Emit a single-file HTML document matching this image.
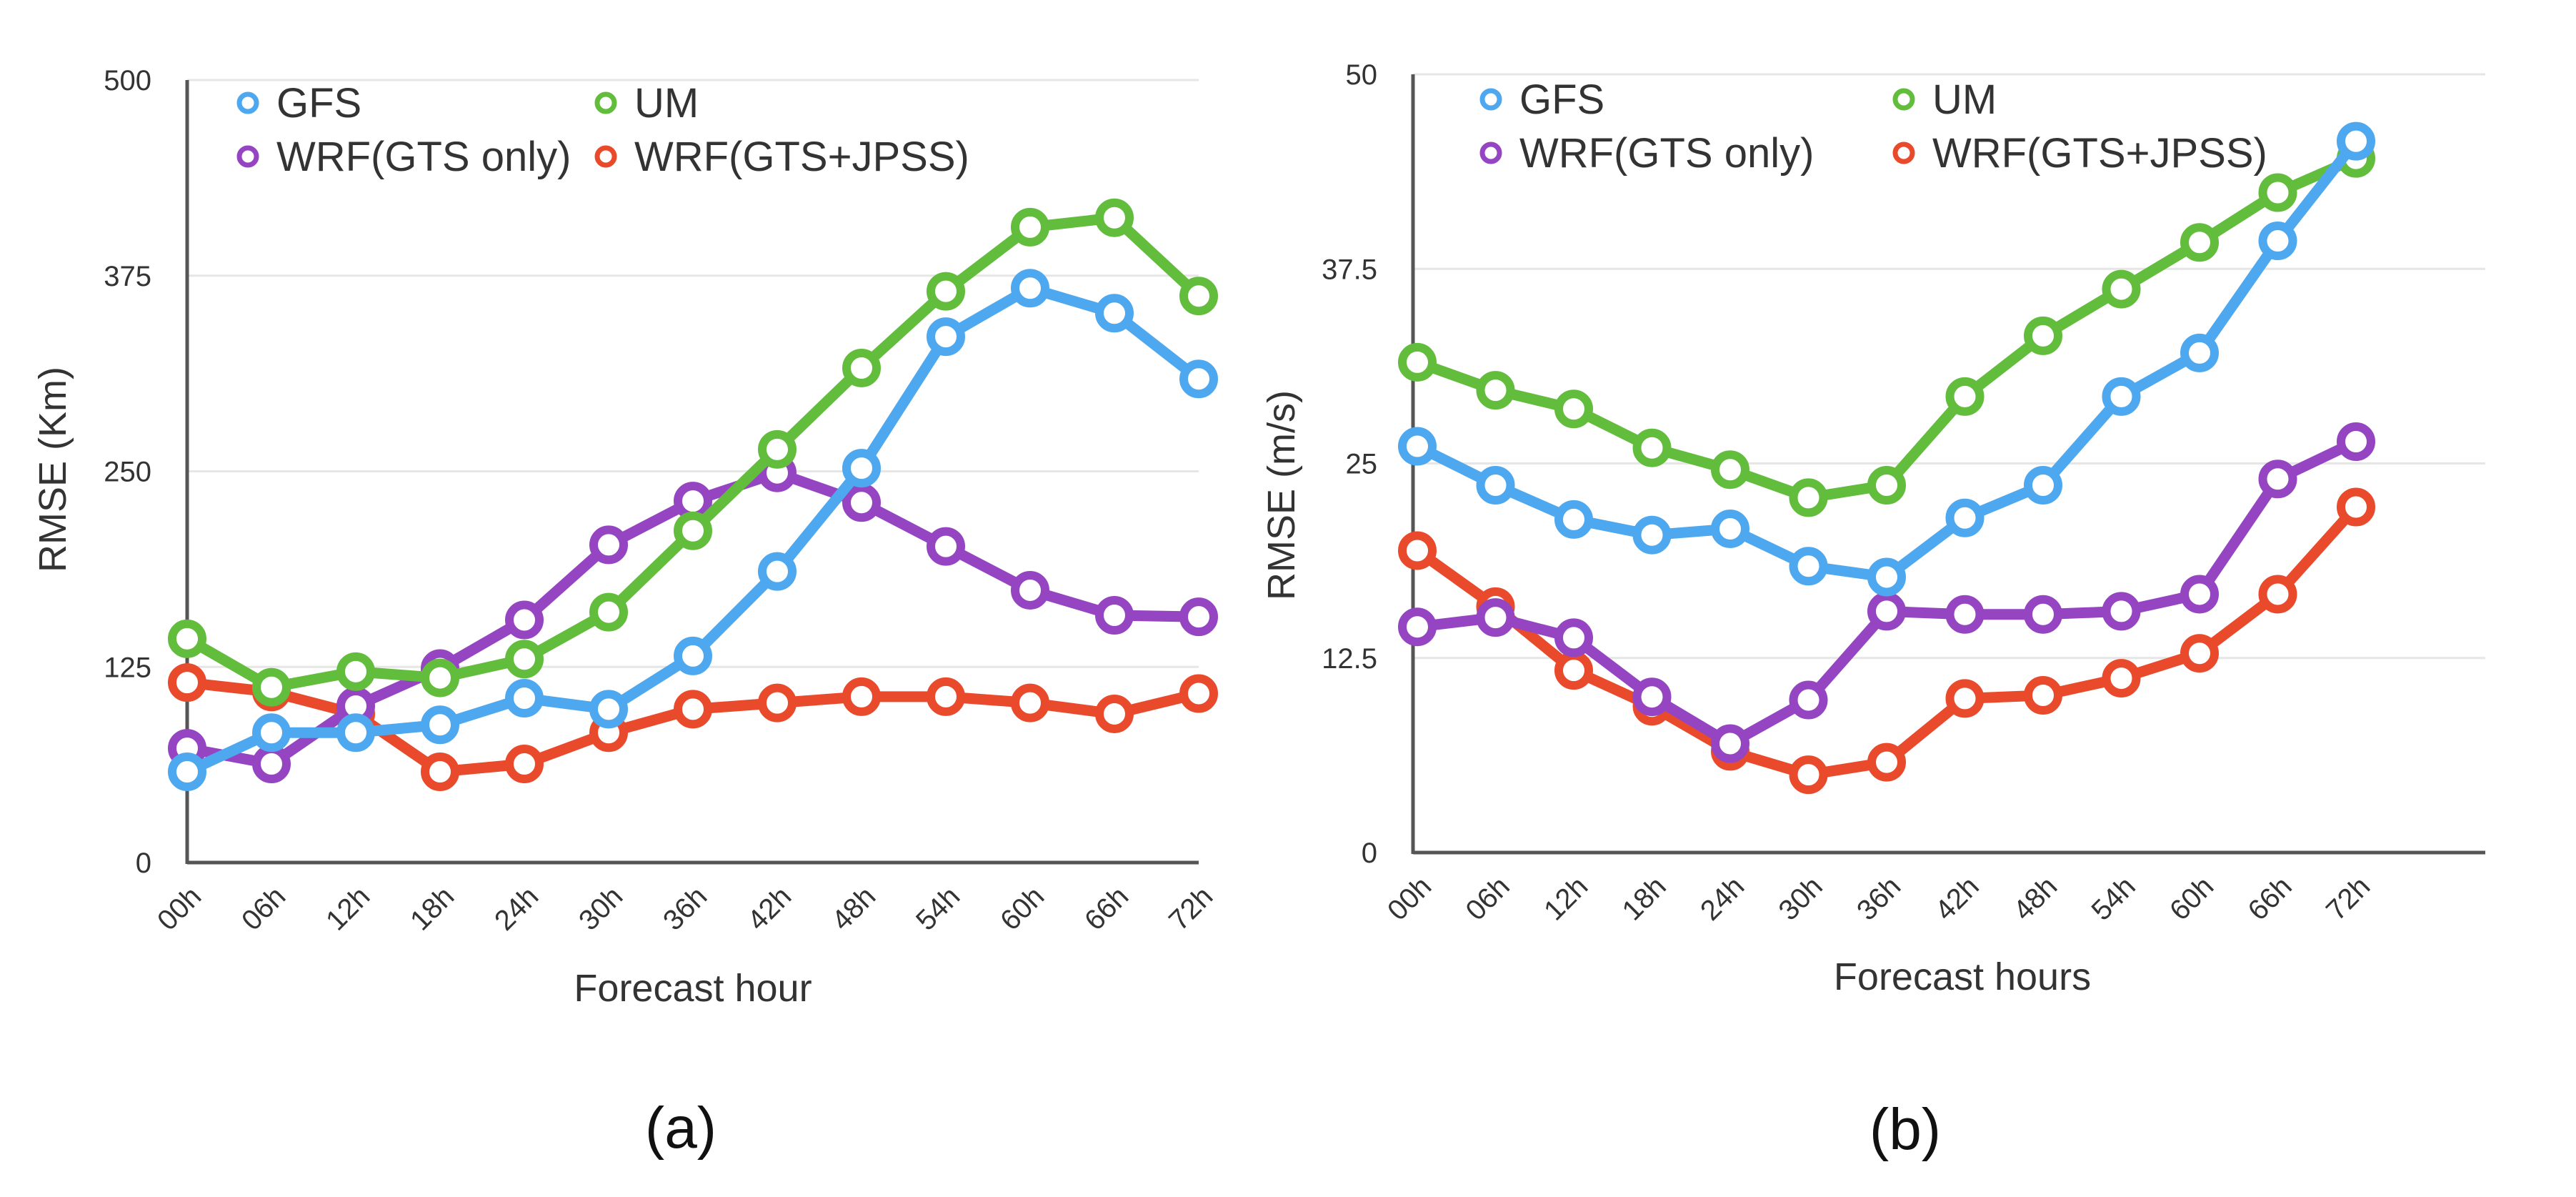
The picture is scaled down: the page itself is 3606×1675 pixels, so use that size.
<!DOCTYPE html>
<html><head><meta charset="utf-8"><style>
html,body{margin:0;padding:0;background:#fff;}
svg{display:block;font-family:"Liberation Sans",sans-serif;}
</style></head><body>
<svg id="chart" width="3606" height="1675" viewBox="0 0 3606 1675" xmlns="http://www.w3.org/2000/svg"></svg>
<script>
const categories=["00h","06h","12h","18h","24h","30h","36h","42h","48h","54h","60h","66h","72h"];
const seriesNames=["GFS","UM","WRF(GTS only)","WRF(GTS+JPSS)"];
const seriesColors=["#4ea8ef","#62bd3c","#9544c2","#ea4a2c"];
const aTicks=[0,125,250,375,500];
const aTickLabels=["0","125","250","375","500"];
const aGFS=[58,83,83,88,105,98,132,186,252,336,367,351,309];
const aUM=[143,112,122,118,130,160,212,264,316,365,406,412,362];
const aGTS=[73,63,100,124,155,203,231,249,230,202,174,158,157];
const aJPSS=[115,109,95,58,63,83,98,102,106,106,102,95,108];
const bTicks=[0,12.5,25,37.5,50];
const bTickLabels=["0","12.5","25","37.5","50"];
const bGFS=[26.1,23.6,21.4,20.4,20.8,18.4,17.7,21.5,23.6,29.3,32.1,39.3,45.7];
const bUM=[31.5,29.7,28.5,26,24.6,22.8,23.6,29.3,33.2,36.2,39.2,42.4,44.6];
const bGTS=[14.5,15.1,13.8,10,7,9.8,15.5,15.3,15.3,15.5,16.6,24,26.4];
const bJPSS=[19.4,15.8,11.7,9.4,6.5,5,5.8,9.9,10.1,11.2,12.8,16.6,22.2];

const svg=document.getElementById('chart');
const NS="http://www.w3.org/2000/svg";
function mk(tag,attrs,parent,text){const e=document.createElementNS(NS,tag);for(const k in attrs)e.setAttribute(k,attrs[k]);if(text!==undefined)e.textContent=text;(parent||svg).appendChild(e);return e;}

function panel(p){
  const g=mk('g',{});
  
  
  const x=i=>p.x0+(p.x1-p.x0)*i/(categories.length-1);
  const y=v=>p.yb+(p.yt-p.yb)*v/p.max;
  p.ticks.forEach((t,i)=>{
    if(t>0){const l=mk('line',{x1:p.ax,x2:p.gx,y1:y(t),y2:y(t),stroke:'#e6e6e6','stroke-width':3},g);
    
    }
    const tx=mk('text',{x:p.ax-50,y:y(t)+14,'text-anchor':'end','font-size':40,fill:'#333'},g,p.labels[i]);
    
    
  });
  const ya=mk('line',{x1:p.ax,x2:p.ax,y1:p.yt,y2:p.yb+2,stroke:'#555','stroke-width':5},g);
  
  
  const xa=mk('line',{x1:p.ax,x2:p.gx,y1:p.yb,y2:p.yb,stroke:'#555','stroke-width':5},g);
  
  
  categories.forEach((c,i)=>{
    const t=mk('text',{x:0,y:0,'text-anchor':'end','font-size':40,fill:'#333',transform:`translate(${x(i)+22},${p.yb+50}) rotate(-45)`},g,c);
    
    
  });
  const order=[3,2,1,0];
  order.forEach(s=>{
    const vals=p.data[s];
    const pts=vals.map((v,i)=>x(i)+','+y(v)).join(' ');
    const pl=mk('polyline',{points:pts,fill:'none',stroke:seriesColors[s],'stroke-width':15,'stroke-linejoin':'round'},g);
    
    
    vals.forEach((v,i)=>{
      const c=mk('circle',{cx:x(i),cy:y(v),r:21,fill:'#fff',stroke:seriesColors[s],'stroke-width':12},g);
      
      
    });
  });
  const lx=[p.lx1,p.lx2,p.lx1,p.lx2], ly=[p.ly1,p.ly1,p.ly2,p.ly2];
  seriesNames.forEach((n,s)=>{
    const m=mk('circle',{cx:lx[s],cy:ly[s],r:12,fill:'#fff',stroke:seriesColors[s],'stroke-width':7},g);
    
    
    const t=mk('text',{x:lx[s]+40,y:ly[s]+20,'font-size':58,fill:'#333'},g,n);
    
    
  });
  const yt=mk('text',{x:0,y:0,'text-anchor':'middle','font-size':54,fill:'#333',transform:`translate(${p.ylx},${p.yly}) rotate(-90)`},g,p.ylabel);
  
  
  const xt=mk('text',{x:p.xlx,y:p.xly+18,'text-anchor':'middle','font-size':54,fill:'#333'},g,p.xlabel);
  
  
  const cap=mk('text',{x:p.cx,y:p.cy+28,'text-anchor':'middle','font-size':82,fill:'#111'},g,p.cap);
  
  
}
panel({id:'panel-a',ax:262,gx:1678,x0:262,x1:1678,yb:1207,yt:112,max:500,ticks:aTicks,labels:aTickLabels,
  data:[aGFS,aUM,aGTS,aJPSS],lx1:347,lx2:848,ly1:144,ly2:219,ylabel:'RMSE (Km)',ylx:92,yly:657,
  xlabel:'Forecast hour',xlx:970,xly:1383,cap:'(a)',cx:953,cy:1578});
panel({id:'panel-b',ax:1978,gx:3479,x0:1984,x1:3298,yb:1193,yt:104,max:50,ticks:bTicks,labels:bTickLabels,
  data:[bGFS,bUM,bGTS,bJPSS],lx1:2087,lx2:2665,ly1:139,ly2:214,ylabel:'RMSE (m/s)',ylx:1812,yly:693,
  xlabel:'Forecast hours',xlx:2747,xly:1367,cap:'(b)',cx:2667,cy:1580});
</script>
</body></html>
